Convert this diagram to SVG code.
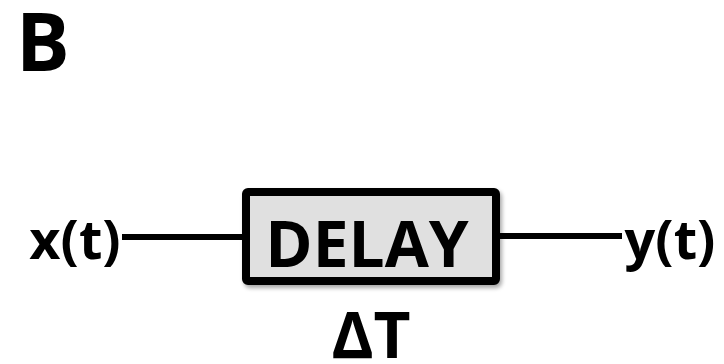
<svg xmlns="http://www.w3.org/2000/svg" width="724" height="364" viewBox="0 0 724 364">
<defs>
<filter id="sh" x="-10%" y="-10%" width="130%" height="130%"><feGaussianBlur in="SourceAlpha" stdDeviation="2"/><feOffset dx="2" dy="3"/><feComponentTransfer><feFuncA type="linear" slope="0.35"/></feComponentTransfer><feMerge><feMergeNode/><feMergeNode in="SourceGraphic"/></feMerge></filter>
</defs>
<style>
text{font-family:"Open Sans","Liberation Sans",sans-serif;font-weight:bold;fill:#000}
.w{stroke:#000;stroke-width:6;fill:none}
</style>
<text x="16" y="71" font-size="80">B</text>
<g id="connectors">
<line class="w" x1="122" y1="237" x2="246" y2="237"/>
<line class="w" x1="496" y1="236" x2="622" y2="236"/>
</g>
<g id="delay">
<rect x="246" y="192" width="250" height="89" fill="#e0e0e0" stroke="#000" stroke-width="8" rx="2" filter="url(#sh)"/>
<text x="367" y="267" font-size="64" text-anchor="middle">DELAY</text>
</g>
<g id="x"><text x="75" y="259" font-size="54" text-anchor="middle">x(t)</text></g>
<g id="y"><text x="670" y="259" font-size="54" text-anchor="middle">y(t)</text></g>
<g id="dt"><text x="371" y="358" font-size="64" text-anchor="middle">ΔT</text></g>
</svg>
